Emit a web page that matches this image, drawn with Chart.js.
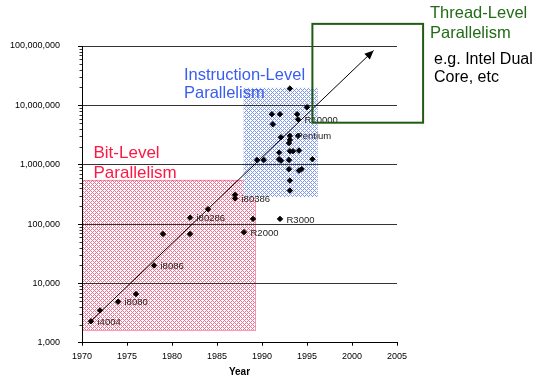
<!DOCTYPE html>
<html><head><meta charset="utf-8">
<script src="https://cdn.jsdelivr.net/npm/chart.js@4/dist/chart.umd.min.js"></script>
<style>html,body{margin:0;padding:0;background:#fff}#wrap{width:540px;height:386px}</style>
</head><body><div id="wrap"><canvas id="c" width="540" height="386"></canvas></div>
<script>
// ---- data ----
const years = [1971,1972,1974,1976,1978,1979,1982,1982,1984,1987,1987,1988,1989,1992,
  1993.1,1995,1991.1,1992,1993.9,1994,1991.2,
  1992.1,1993.1,1993.1,1993,1994,1991.9,1993.1,1993.45,1994.1,
  1989.45,1990.2,1991.9,1992.1,1993,1995.6,1993,1994.1,1994.4,1993.1,1993.1];
const transistors = [2300,3500,4900,6600,20000,68000,68000,128000,178000,270000,310000,73000,122000,122000,
  19200000,9300000,7100000,7100000,7100000,5800000,4800000,
  2900000,3060000,2620000,2310000,3060000,1600000,1690000,1690000,1730000,
  1200000,1200000,1240000,1170000,1200000,1240000,840000,795000,840000,540000,366000];
const chipNames = ['i4004','','i8080','','i8086','','','i80286','','i80386','','R2000','','R3000',
  '','','','','','R10000','',
  '','Pentium','','','','','','','',
  '','','','','','','','','','',''];
const trendYears = [1970.7, 2002.4];
const trendValues = [2100, 84000000];
const xTickYears = [1970,1975,1980,1985,1990,1995,2000,2005];
const yDecades = [1000,10000,100000,1000000,10000000,100000000];

// shaded regions (data units)
const bitRegion = {x0:1970.05, x1:1989.25, y0:1640, y1:555000};
const ilpRegion = {x0:1987.95, x1:1996.2, y0:285000, y1:19700000};
const tlpRegion = {x0:1995.6, x1:2007.9, y0:5100000, y1:236000000};

const FONT = '"Liberation Sans", Arial, sans-serif';

function makePattern(ctx, color){
  const c = document.createElement('canvas'); c.width = 4; c.height = 4;
  const g = c.getContext('2d');
  g.fillStyle = '#fff'; g.fillRect(0,0,4,4);
  g.fillStyle = color;
  for (let x = 0; x < 4; x++) for (let y = 0; y < 4; y++) {
    if ((x + y) % 4 === 0 || ((x - y) % 4 + 4) % 4 === 0) g.fillRect(x, y, 1, 1);
  }
  return ctx.createPattern(c, 'repeat');
}
function rectPx(chart, r){
  const xs = chart.scales.x, ys = chart.scales.y;
  const l = xs.getPixelForValue(r.x0), rr = xs.getPixelForValue(r.x1);
  const t = ys.getPixelForValue(r.y1), b = ys.getPixelForValue(r.y0);
  return {l, t, w: rr - l, h: b - t};
}

const decorPlugin = {
  id: 'decor',
  beforeDraw(chart){
    const ctx = chart.ctx;
    ctx.save();
    ctx.fillStyle = '#fff'; ctx.fillRect(0,0,chart.width,chart.height);
    let p = rectPx(chart, bitRegion);
    ctx.fillStyle = makePattern(ctx, '#f07090');
    ctx.fillRect(p.l, p.t, p.w, p.h);
    ctx.strokeStyle = '#ff3366'; ctx.lineWidth = 1; ctx.setLineDash([1,1]);
    ctx.strokeRect(Math.round(p.l)+0.5, Math.round(p.t)+0.5, Math.round(p.w), Math.round(p.h));
    ctx.setLineDash([]);
    p = rectPx(chart, ilpRegion);
    ctx.fillStyle = makePattern(ctx, '#7f98eb');
    ctx.fillRect(p.l, p.t, p.w, p.h);
    ctx.restore();
  },
  afterDatasetsDraw(chart){
    const ctx = chart.ctx, xs = chart.scales.x, ys = chart.scales.y;
    ctx.save();
    // minor ticks on y axis
    ctx.strokeStyle = '#333'; ctx.lineWidth = 1;
    const left = chart.chartArea.left;
    ys.ticks.forEach(t => {
      if (t.major) return;
      const py = Math.round(ys.getPixelForValue(t.value)) + 0.5;
      ctx.beginPath(); ctx.moveTo(left - 2.5, py); ctx.lineTo(left, py); ctx.stroke();
    });
    // arrow head
    const x1 = xs.getPixelForValue(trendYears[0]), y1 = ys.getPixelForValue(trendValues[0]);
    const x2 = xs.getPixelForValue(trendYears[1]), y2 = ys.getPixelForValue(trendValues[1]);
    const a = Math.atan2(y2 - y1, x2 - x1);
    const L = 9, W = 4;
    ctx.fillStyle = '#000';
    ctx.beginPath();
    ctx.moveTo(x2, y2);
    ctx.lineTo(x2 - L*Math.cos(a) + W*Math.sin(a), y2 - L*Math.sin(a) - W*Math.cos(a));
    ctx.lineTo(x2 - L*Math.cos(a) - W*Math.sin(a), y2 - L*Math.sin(a) + W*Math.cos(a));
    ctx.closePath(); ctx.fill();
    // chip labels
    ctx.font = '9.5px ' + FONT; ctx.fillStyle = '#222';
    ctx.textAlign = 'left'; ctx.textBaseline = 'middle';
    chipNames.forEach((n, i) => {
      if (!n) return;
      const px = xs.getPixelForValue(years[i]), py = ys.getPixelForValue(transistors[i]);
      ctx.fillText(n, px + 6.5, py + 1);
    });
    ctx.restore();
  },
  afterDraw(chart){
    const ctx = chart.ctx;
    ctx.save();
    const p = rectPx(chart, tlpRegion);
    ctx.strokeStyle = '#1f5c12'; ctx.lineWidth = 2;
    ctx.strokeRect(p.l, p.t, p.w, p.h);
    ctx.textAlign = 'left'; ctx.textBaseline = 'middle';
    ctx.font = '16.5px ' + FONT;
    ctx.fillStyle = '#3a5cf0';
    ctx.fillText('Instruction-Level', 184, 75);
    ctx.fillText('Parallelism', 184, 93.5);
    ctx.font = '17px ' + FONT;
    ctx.fillStyle = '#ff1744';
    ctx.fillText('Bit-Level', 93.5, 153.5);
    ctx.fillText('Parallelism', 93.5, 173.5);
    ctx.font = '16.5px ' + FONT;
    ctx.fillStyle = '#236b17';
    ctx.fillText('Thread-Level', 430, 13.5);
    ctx.fillText('Parallelism', 430, 33.5);
    ctx.font = '16px ' + FONT;
    ctx.fillStyle = '#000';
    ctx.fillText('e.g. Intel Dual', 434, 59.5);
    ctx.fillText('Core, etc', 434, 77.5);
    ctx.restore();
  }
};

const isDecade = v => { const l = Math.log10(v); return Math.abs(l - Math.round(l)) < 1e-9; };

new Chart(document.getElementById('c'), {
  type: 'scatter',
  data: {
    datasets: [
      {
        data: years.map((y, i) => ({x: y, y: transistors[i]})),
        pointStyle: 'rectRot', pointRadius: 2.7, borderWidth: 1,
        backgroundColor: '#000', borderColor: '#000', order: 1
      },
      {
        data: trendYears.map((y, i) => ({x: y, y: trendValues[i]})),
        showLine: true, pointRadius: 0, borderColor: '#000', borderWidth: 1, order: 2
      }
    ]
  },
  options: {
    responsive: false, animation: false, devicePixelRatio: 1,
    layout: {padding: {left: 0, right: 143, top: 46, bottom: 0}},
    plugins: {legend: {display: false}, tooltip: {enabled: false}},
    scales: {
      x: {
        type: 'linear', min: xTickYears[0], max: xTickYears[xTickYears.length-1],
        afterFit(s){ s.height = 43.3; },
        afterBuildTicks(s){ s.ticks = xTickYears.map(v => ({value: v})); },
        ticks: {font: {family: FONT, size: 9}, color: '#000', padding: 5, maxRotation: 0, autoSkip: false,
          callback: v => String(v)},
        grid: {drawOnChartArea: false, drawTicks: true, tickLength: 3, color: '#000'},
        border: {color: '#000', width: 1},
        title: {display: true, text: 'Year', color: '#000',
          font: {family: FONT, size: 10, weight: 'bold'}, padding: {top: 0, bottom: 8}}
      },
      y: {
        type: 'logarithmic', min: yDecades[0], max: yDecades[yDecades.length-1],
        afterFit(s){ s.width = 82; },
        afterBuildTicks(s){
          const t = [];
          yDecades.forEach((d, i) => {
            t.push({value: d, major: true});
            if (i < yDecades.length - 1) for (let m = 2; m <= 9; m++) t.push({value: m*d, major: false});
          });
          s.ticks = t;
        },
        ticks: {font: {family: FONT, size: 9}, color: '#000', padding: 18, autoSkip: false,
          callback: (v) => isDecade(v) ? Math.round(v).toLocaleString('en-US') : ''},
        grid: {drawTicks: true, tickLength: 4,
          color: c => (c.tick && c.tick.major) ? '#333' : 'rgba(0,0,0,0)',
          tickColor: c => (c.tick && c.tick.major) ? '#000' : 'rgba(0,0,0,0)'},
        border: {color: '#000', width: 1}
      }
    }
  },
  plugins: [decorPlugin]
});
</script></body></html>
